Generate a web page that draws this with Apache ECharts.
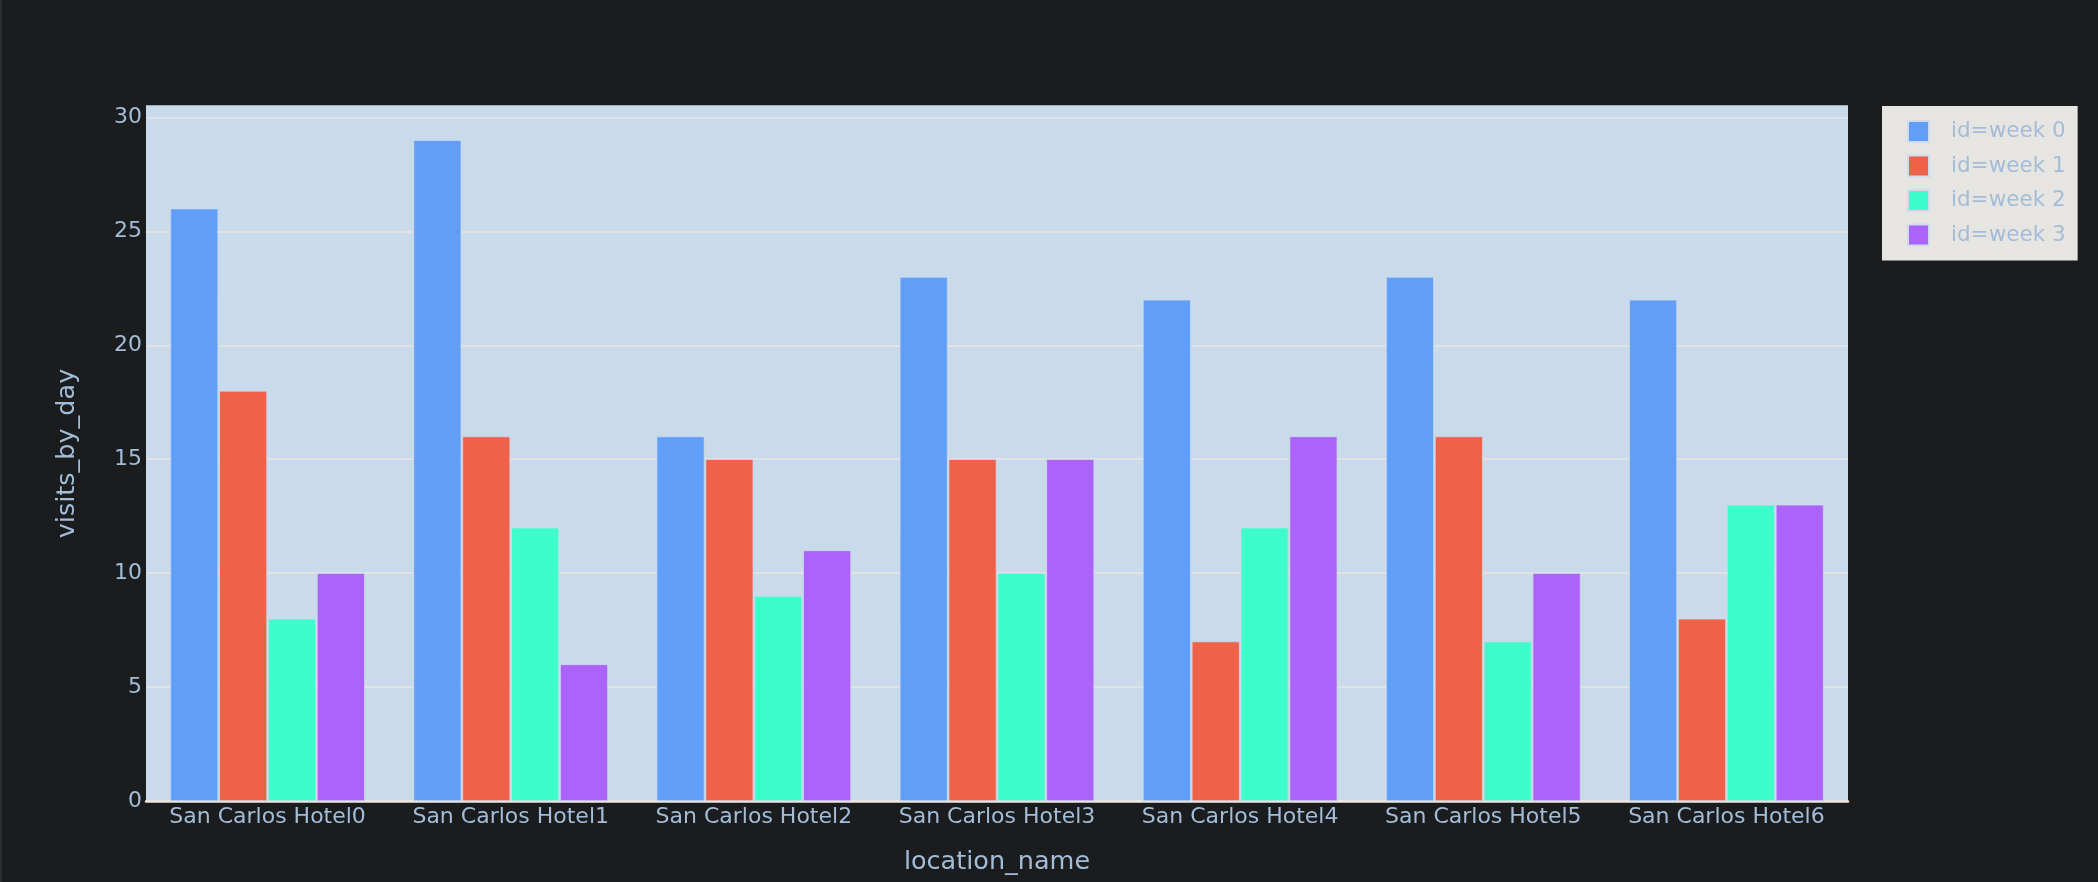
<!DOCTYPE html>
<html>
<head>
<meta charset="utf-8">
<script src="https://cdn.jsdelivr.net/npm/echarts@6/dist/echarts.min.js"></script>
<style>
    html, body { margin: 0; padding: 0; background: #1a1c1e; }
    #chart { width: 2098px; height: 882px; border-left: 2px solid #2b2d30; box-sizing: border-box; }
</style>
</head>
<body>
<div id="chart"></div>
<script>
var locations = ['San Carlos Hotel0', 'San Carlos Hotel1', 'San Carlos Hotel2', 'San Carlos Hotel3',
    'San Carlos Hotel4', 'San Carlos Hotel5', 'San Carlos Hotel6'];
var weekNames = ['id=week 0', 'id=week 1', 'id=week 2', 'id=week 3'];
var week0 = [26, 29, 16, 23, 22, 23, 22];
var week1 = [18, 16, 15, 15, 7, 16, 8];
var week2 = [8, 12, 9, 10, 12, 7, 13];
var week3 = [10, 6, 11, 15, 16, 10, 13];
var yTicks = [0, 5, 10, 15, 20, 25, 30];

var week_colors = ['#619ef8', '#f0614a', '#3ffdcb', '#ab63fa'];
var textColor = '#a3bdd8';
var font = 'DejaVu Sans';

var chart = echarts.init(document.getElementById('chart'), null, {renderer: 'canvas'});

var series = [];
[week0, week1, week2, week3].forEach(function (vals, i) {
    series.push({
        name: weekNames[i],
        type: 'bar',
        data: vals,
        barGap: '2%',
        barCategoryGap: '20%',
        itemStyle: {color: week_colors[i], borderColor: '#cfdcee', borderWidth: 0.7},
        emphasis: {disabled: true}
    });
});

// gridline colours, last one hides the line on the top edge
var gridColors = yTicks.map(function () { return '#e9e5e0'; });
gridColors.push('#c9daeb');

var option = {
    backgroundColor: '#1a1c1e',
    animation: false,
    grid: {
        left: 144, right: 250, top: 106, bottom: 81,
        show: true, backgroundColor: '#c9daeb', borderWidth: 0
    },
    legend: {
        orient: 'vertical',
        left: 1880, top: 106,
        backgroundColor: '#e7e5e2',
        padding: [14, 12, 14, 25],
        itemWidth: 21, itemHeight: 21, itemGap: 11.5,
        icon: 'rect',
        textStyle: {color: textColor, fontSize: 21.5, fontFamily: font, padding: [0, 0, 0, 17]},
        data: weekNames
    },
    xAxis: {
        type: 'category',
        data: locations,
        axisTick: {show: false},
        axisLine: {show: true, lineStyle: {color: '#ebe7e2', width: 2.5}},
        axisLabel: {color: textColor, fontSize: 22, fontFamily: font, margin: 5, interval: 0},
        name: 'location_name',
        nameLocation: 'middle',
        nameGap: 48,
        nameMoveOverlap: false,
        nameTextStyle: {color: textColor, fontSize: 25.5, fontFamily: font}
    },
    yAxis: {
        type: 'value',
        min: 0, max: 30.5, interval: 5,
        axisLine: {show: false},
        axisTick: {show: false},
        axisLabel: {color: textColor, fontSize: 22, fontFamily: font, margin: 4, showMaxLabel: false},
        splitLine: {show: true, lineStyle: {color: gridColors, width: 1.5}},
        name: 'visits_by_day',
        nameLocation: 'middle',
        nameGap: 66,
        nameMoveOverlap: false,
        nameTextStyle: {color: textColor, fontSize: 25.5, fontFamily: font}
    },
    series: series
};

option && chart.setOption(option);
</script>
</body>
</html>
